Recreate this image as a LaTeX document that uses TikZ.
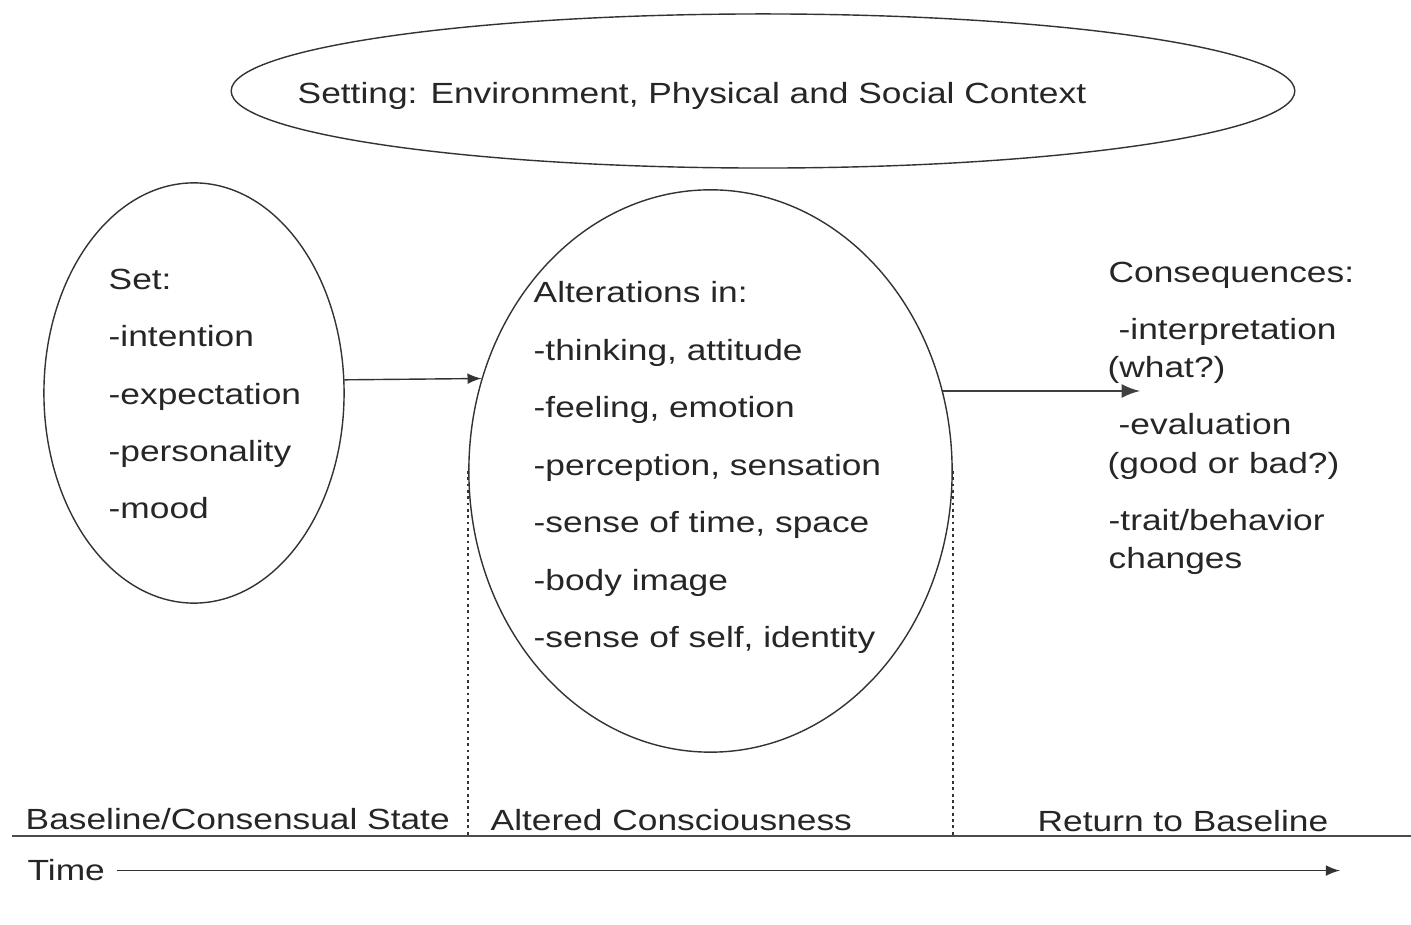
\documentclass[tikz,border=0pt]{standalone}
\usepackage{fontspec}
\setmainfont{Liberation Sans}[FakeStretch=1.21]
\usetikzlibrary{shapes.geometric}

\begin{document}
\begin{tikzpicture}[x=0.01cm, y=-0.01cm,
  txt/.style={anchor=base west, inner sep=0, text=black!85, font=\fontsize{8.3}{10}\selectfont},
  oval/.style={ellipse, draw=black!80, thin, inner sep=0},
  sep/.style={draw=black!80, thin, dash pattern=on 0.8pt off 1pt}]
\useasboundingbox (0,0) rectangle (1411,925);

% Setting
\node[oval, minimum width=10.63cm, minimum height=1.54cm] (setting) at (763,91) {};
\node[txt] (settingtxt) at (297,104) {Setting: Environment, Physical and Social Context};

% Set
\node[oval, minimum width=3cm, minimum height=4.2cm] (set) at (194,393) {};
\node[txt] (set0) at (108,290) {Set:};
\node[txt] (set1) at (108,347) {-intention};
\node[txt] (set2) at (108,404.5) {-expectation};
\node[txt] (set3) at (108,462) {-personality};
\node[txt] (set4) at (108,519) {-mood};

% Altered state
\node[oval, minimum width=4.83cm, minimum height=5.62cm] (alt) at (710.5,471) {};
\node[txt] (alt0) at (533,303) {Alterations in:};
\node[txt] (alt1) at (533,360.5) {-thinking, attitude};
\node[txt] (alt2) at (533,418) {-feeling, emotion};
\node[txt] (alt3) at (533,475.5) {-perception, sensation};
\node[txt] (alt4) at (533,533) {-sense of time, space};
\node[txt] (alt5) at (533,590.5) {-body image};
\node[txt] (alt6) at (533,648) {-sense of self, identity};

% Consequences
\node[txt] (csq0) at (1108,283) {Consequences:};
\node[txt] (csq1) at (1118,340) {-interpretation};
\node[txt] (csq2) at (1107,378) {(what?)};
\node[txt] (csq3) at (1118,435) {-evaluation};
\node[txt] (csq4) at (1107,474) {(good or bad?)};
\node[txt] (csq5) at (1108,531) {-trait/behavior};
\node[txt] (csq6) at (1108,569) {changes};

\coordinate (csqend) at (1140,392);
\draw[-latex, thin, black!80] (set.5) -- (alt.158);
\draw[-latex, line width=0.8pt, black!75] (alt.19) -- (alt.19 -| csqend);

% Time axis
\coordinate (baseL) at (12,836);
\coordinate (baseR) at (1411,836);
\coordinate (tend) at (1340,870);

\node[txt] (phase1) at (25,830) {Baseline/Consensual State};
\node[txt] (phase2) at (490,831) {Altered Consciousness};
\node[txt] (phase3) at (1037,832) {Return to Baseline};
\node[txt] (time) at (27,881) {Time};

\draw[sep] (alt.west) -- (alt.west |- baseL);
\draw[sep] (alt.east) -- (alt.east |- baseL);
\draw[black!70, line width=0.6pt] (baseL) -- (baseR);
\draw[-latex, thin, black!80] ([xshift=0.11cm]time.east) -- (time.east -| tend);

\end{tikzpicture}
\end{document}
